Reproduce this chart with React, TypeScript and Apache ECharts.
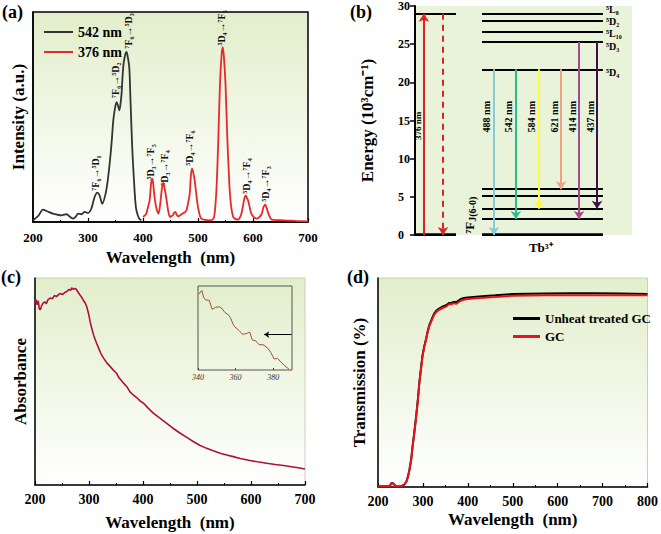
import React, { useEffect, useRef } from "react";
import * as echarts from "echarts";

const FONT = '"Liberation Serif", "Times New Roman", serif';

// ---------- (a) excitation / emission ----------
const excWl = [200, 210, 218, 228, 236, 244, 252, 261, 267, 273, 278, 282, 288, 294, 300, 306, 312, 317, 321, 326, 332, 336, 340, 343, 346, 349, 352, 355, 357, 359, 361, 363, 365, 368, 370, 372, 375, 377, 379, 381, 384, 386, 388, 393, 397];
const excInt = [0.8, 3, 5.9, 4.8, 4, 3.5, 3.2, 3.7, 2.5, 1.6, 2.6, 4, 3.7, 4.8, 4.3, 6.3, 11.9, 14, 12.7, 8.7, 13.5, 20, 29.4, 38, 48.4, 54, 57.1, 55, 53.2, 56, 61, 70, 76, 80, 81, 79, 73.8, 60, 45, 32, 18, 10, 5.6, 1.6, 0.8];
const emWl = [400, 403, 406, 409, 412, 415, 417, 419, 421, 424, 428, 430, 432, 435, 437, 440, 443, 446, 449, 452, 454, 457, 459, 461, 464, 468, 472, 476, 479, 482, 485, 487, 489, 491, 494, 497, 500, 503, 506, 513, 521, 528, 531, 534, 537, 540, 543, 545, 547, 550, 553, 557, 560, 564, 568, 573, 576, 579, 582, 585, 587, 589, 591, 594, 597, 602, 607, 612, 616, 619, 622, 625, 628, 631, 634, 645, 655, 670, 685, 700];
const emInt = [2.4, 3, 4, 7, 10.3, 19, 20.6, 17, 11.9, 7, 4, 6, 10.3, 17, 18.6, 15, 10.3, 5, 2.4, 2.8, 3.2, 4.5, 4.8, 3.6, 2.7, 3.3, 4, 4.6, 5.6, 9, 13.5, 22, 25.4, 24, 19.8, 13, 7.1, 3.5, 1.6, 1, 0.8, 1.6, 6, 18, 40, 65.9, 80, 83.3, 79, 65.9, 42, 18, 8, 2.4, 1.5, 1.1, 2, 4, 8, 11.9, 12.5, 11.5, 10.3, 7, 4, 2.2, 1.6, 2.4, 4, 7, 8.4, 6.5, 4, 2.2, 1.1, 0.9, 0.8, 0.6, 0.4, 0.3];
const aNotes = ["⁷F₆→⁵D₁", "⁷F₆→⁵D₂", "⁷F₆→⁵D₃", "⁵D₃→⁷F₅", "⁵D₃→⁷F₄", "⁵D₄→⁷F₆", "⁵D₄→⁷F₅", "⁵D₄→⁷F₄", "⁵D₄→⁷F₃"];
const aNoteWl = [314, 350, 373.5, 413, 438.5, 484.5, 542.5, 587.4, 622];
const aNoteVal = [23.3, 67.5, 91, 28.6, 25.7, 35.2, 92.4, 21.9, 18.1];

// ---------- (b) energy levels of Tb3+ (10^3 cm-1) ----------
const excitedLevel = 29.0;
const rightLevels = [29.0, 28.1, 26.6, 25.3, 21.7, 6.0, 5.15, 3.45, 2.1, 0];
const levelNames = ["⁵L₈", "⁵D₂", "⁵L₁₀", "⁵D₃", "⁵D₄"];
const levelNameE = [29.6, 28.0, 26.4, 24.7, 21.3];
const transLabels = ["488 nm", "542 nm", "584 nm", "621 nm", "414 nm", "437 nm"];
const transFrom = [21.7, 21.7, 21.7, 21.7, 25.3, 25.3];
const transTo = [0, 2.1, 3.45, 6.0, 2.1, 3.45];
const transColors = ["#86cbd6", "#2dbd8c", "#fbfb3a", "#eea27f", "#a24a8e", "#3e1046"];
// horizontal placement (layout, 0..100 across panel b)
const transX = [36.4, 46.5, 57.1, 67.3, 75.6, 83.9];

// ---------- (c) absorbance ----------
const absWl = [200, 202, 204, 206, 208, 210, 212, 215, 218, 221, 224, 228, 232, 236, 240, 243, 247, 251, 255, 259, 263, 266, 268, 271, 274, 276, 279, 283, 287, 290, 293, 296, 299, 302, 305, 309, 314, 318, 322, 327, 333, 339, 345, 351, 355, 360, 364, 370, 376, 382, 390, 395, 401, 410, 419, 430, 444, 456, 469, 481, 493, 505, 518, 530, 543, 555, 567, 580, 598, 612, 629, 645, 660, 675, 690, 700];
const absVal = [88, 89.5, 87, 89, 85, 84.7, 86.5, 87.9, 88.5, 87.6, 89.5, 90.3, 90, 91.5, 91, 91.9, 92.5, 92, 93, 93.5, 94.5, 94, 95.2, 94.5, 95, 94.7, 93.5, 91.9, 90.5, 89, 87.9, 86, 83, 79, 75.8, 72, 68.5, 66, 63.5, 61.3, 59, 57.3, 55.5, 54, 52, 50.5, 49.2, 47.5, 45, 43.5, 41.8, 40.5, 39.5, 37, 34.7, 32.5, 29.8, 27.3, 25, 23, 21, 19.2, 17.7, 16.5, 15.3, 14.5, 13.7, 12.8, 11.8, 11.2, 10.5, 9.9, 9.4, 8.8, 8.2, 7.7];
const insetWl = [340.5, 342, 343, 344, 346, 347.5, 349.3, 351.4, 352.8, 354.3, 356, 357.3, 359, 361.8, 363.6, 365.7, 367.5, 368.9, 370.7, 372.5, 374.6, 377, 378.8, 380.5, 382.3, 384.1, 386.8, 388.6];
const insetVal = [94.9, 99.6, 90.9, 87.7, 87, 75.9, 78.3, 79, 76.7, 71.9, 69.2, 65.2, 55.3, 49.4, 44.7, 45.5, 47.4, 37.5, 36.4, 31.6, 31.6, 27.7, 21.7, 13.8, 14.6, 9.9, 4, 0.8];

// ---------- (d) transmission ----------
const dWl = [200, 215, 226, 229, 232, 235, 239, 245, 252, 258, 263, 267, 270, 274, 277, 281, 285, 289, 292, 296, 299, 303, 307, 310, 314, 320, 325, 330, 336, 341, 347, 352, 358, 364, 369, 374, 380, 385, 391, 400, 425, 461, 498, 535, 572, 630, 682, 740, 800];
const gcT = [0.3, 0.3, 0.3, 1.6, 1.8, 1.4, 0.5, 0.5, 0.5, 1, 2.4, 5, 8, 13, 19.2, 26, 33.6, 42, 49.6, 57, 62.4, 67, 70.4, 73.5, 76.8, 80, 82.4, 83.8, 84.8, 85.3, 86, 86.3, 87.5, 87.5, 88, 87.6, 88.5, 89.2, 89.6, 89.9, 90.4, 90.9, 91.5, 91.6, 91.7, 91.8, 91.8, 91.8, 91.8];
const unheatT = [0.3, 0.3, 0.3, 1.7, 1.9, 1.5, 0.5, 0.5, 0.5, 1, 2.5, 5.2, 8.3, 13.4, 19.6, 26.5, 34, 42.4, 50, 57.4, 62.8, 67.4, 70.8, 74, 77.3, 80.5, 83, 84.4, 85.4, 86, 86.6, 87, 88, 88.2, 88.6, 88.4, 89.3, 90, 90.4, 90.7, 91.2, 91.7, 92.3, 92.5, 92.6, 92.7, 92.7, 92.6, 92.4];

const zip = (a: number[], b: number[]) => a.map((v, i) => [v, b[i]]);

const bg = () =>
  new echarts.graphic.LinearGradient(0, 0, 0, 1, [
    { offset: 0, color: "#e2eecb" },
    { offset: 1, color: "#ffffff" },
  ]);

const boldName = (size: number) => ({ fontFamily: FONT, fontWeight: "bold" as const, fontSize: size, color: "#000" });

const xAx = (gridIndex: number, min: number, max: number, gap: number, size: number, margin: number) => ({
  type: "value",
  gridIndex,
  min,
  max,
  interval: 100,
  axisLine: { show: true, onZero: false, lineStyle: { color: "#000", width: 1.5 } },
  axisTick: { show: true, inside: true, length: 4, lineStyle: { color: "#000", width: 1.2 } },
  minorTick: { show: true, splitNumber: 2, length: 2, lineStyle: { color: "#000" } },
  splitLine: { show: false },
  minorSplitLine: { show: false },
  axisLabel: { color: "#000", fontFamily: FONT, fontWeight: "bold", fontSize: size, margin },
  name: "Wavelength  (nm)",
  nameLocation: "middle",
  nameGap: gap,
  nameTextStyle: boldName(17),
});

const yAx = (gridIndex: number, name: string, gap: number) => ({
  type: "value",
  gridIndex,
  min: 0,
  max: 100,
  axisLine: { show: true, onZero: false, lineStyle: { color: "#000", width: 1.5 } },
  axisTick: { show: false },
  axisLabel: { show: false },
  splitLine: { show: false },
  name,
  nameLocation: "middle",
  nameGap: gap,
  nameTextStyle: boldName(17),
});

export default function App() {
  const ref = useRef<HTMLDivElement>(null);
  useEffect(() => {
    document.body.style.margin = "0";
    const chart = echarts.init(ref.current!, null, { renderer: "svg" });

    const levelLines: any[] = [
      { coords: [[0, excitedLevel], [18.9, excitedLevel]], lineStyle: { width: 2 } },
      { coords: [[0, 0], [18.9, 0]], lineStyle: { width: 3.5 } },
      ...rightLevels.map((e) => ({
        coords: [[30.9, e], [86.6, e]],
        lineStyle: { width: e === 0 ? 3.5 : 2 },
      })),
    ];
    const transArrows = transFrom.map((f, i) => ({
      coords: [[transX[i], f], [transX[i], transTo[i]]],
      lineStyle: { color: transColors[i], width: 2 },
    }));

    chart.setOption({
      animation: false,
      textStyle: { fontFamily: FONT },
      grid: [
        { left: 33, top: 12, width: 275, height: 210, show: true, borderColor: "#000", borderWidth: 1.5, backgroundColor: bg() },
        { left: 415, top: 6, width: 217, height: 229, show: true, borderWidth: 0, backgroundColor: "#e9f3da" },
        { left: 35, top: 278, width: 270, height: 207, show: true, borderColor: "#c8d0bc", borderWidth: 1, backgroundColor: bg() },
        { left: 198, top: 286, width: 94, height: 84, show: true, borderColor: "#555", borderWidth: 1, backgroundColor: "transparent" },
        { left: 378, top: 278, width: 272, height: 209, show: true, borderColor: "#c8d0bc", borderWidth: 1, backgroundColor: bg() },
      ],
      xAxis: [
        xAx(0, 200, 700, 27, 13, 9),
        { type: "value", gridIndex: 1, min: 0, max: 100, show: false },
        xAx(2, 200, 700, 29, 14, 7),
        {
          type: "value",
          gridIndex: 3,
          min: 340,
          max: 390,
          interval: 20,
          axisLine: { show: false },
          axisTick: { show: true, inside: true, length: 2, lineStyle: { color: "#444" } },
          splitLine: { show: false },
          axisLabel: { color: "#333", fontFamily: FONT, fontStyle: "italic", fontSize: 8, margin: 3, showMaxLabel: false },
        },
        { ...xAx(4, 200, 800, 24, 14, 7) },
      ],
      yAxis: [
        yAx(0, "Intensity (a.u.)", 6),
        {
          type: "value",
          gridIndex: 1,
          min: 0,
          max: 30,
          interval: 5,
          offset: 22,
          axisLine: { show: true, lineStyle: { color: "#000", width: 2 } },
          axisTick: { show: true, inside: false, length: 5, lineStyle: { color: "#000", width: 1.5 } },
          axisLabel: { inside: true, margin: 5, color: "#000", fontFamily: FONT, fontWeight: "bold", fontSize: 12 },
          splitLine: { show: false },
          name: "Energy (10³cm⁻¹)",
          nameLocation: "middle",
          nameGap: 17,
          nameTextStyle: boldName(17),
        },
        yAx(2, "Absorbance", 6),
        { type: "value", gridIndex: 3, min: 0, max: 105, show: false },
        yAx(4, "Transmission (%)", 10),
      ],
      legend: [
        {
          left: 39,
          top: 20,
          orient: "vertical",
          icon: "rect",
          itemWidth: 29,
          itemHeight: 2,
          itemGap: 6,
          data: ["542 nm", "376 nm"],
          textStyle: { fontFamily: FONT, fontWeight: "bold", fontSize: 14, color: "#000", lineHeight: 14 },
        },
        {
          left: 508,
          top: 307,
          orient: "vertical",
          icon: "rect",
          itemWidth: 27,
          itemHeight: 3,
          itemGap: 5,
          data: ["Unheat treated GC", "GC"],
          textStyle: { fontFamily: FONT, fontWeight: "bold", fontSize: 13, color: "#000", lineHeight: 12 },
        },
      ],
      series: [
        { name: "542 nm", type: "line", xAxisIndex: 0, yAxisIndex: 0, data: zip(excWl, excInt), symbol: "none", smooth: 0.3, lineStyle: { color: "#333", width: 1.8 }, itemStyle: { color: "#333" } },
        { name: "376 nm", type: "line", xAxisIndex: 0, yAxisIndex: 0, data: zip(emWl, emInt), symbol: "none", smooth: 0.3, lineStyle: { color: "#e8282a", width: 1.8 }, itemStyle: { color: "#e8282a" } },
        { type: "lines", coordinateSystem: "cartesian2d", xAxisIndex: 1, yAxisIndex: 1, data: levelLines, lineStyle: { color: "#000", width: 2, opacity: 1 }, symbol: "none", silent: true },
        { type: "lines", coordinateSystem: "cartesian2d", xAxisIndex: 1, yAxisIndex: 1, data: [{ coords: [[4.1, 0], [4.1, excitedLevel]] }], lineStyle: { color: "#e02020", width: 2, opacity: 1 }, symbol: ["none", "arrow"], symbolSize: 8, silent: true },
        { type: "lines", coordinateSystem: "cartesian2d", xAxisIndex: 1, yAxisIndex: 1, data: [{ coords: [[12.9, excitedLevel], [12.9, 0]] }], lineStyle: { color: "#e02020", width: 2, type: [6, 5], opacity: 1 }, symbol: ["none", "arrow"], symbolSize: 8, silent: true },
        { type: "lines", coordinateSystem: "cartesian2d", xAxisIndex: 1, yAxisIndex: 1, data: transArrows, lineStyle: { width: 2, opacity: 1 }, symbol: ["none", "arrow"], symbolSize: 8, silent: true },
        { type: "line", xAxisIndex: 2, yAxisIndex: 2, data: zip(absWl, absVal), symbol: "none", lineStyle: { color: "#b0103e", width: 1.6 } },
        { type: "line", xAxisIndex: 3, yAxisIndex: 3, data: zip(insetWl, insetVal), symbol: "none", lineStyle: { color: "#a0503a", width: 1 } },
        { type: "lines", coordinateSystem: "cartesian2d", xAxisIndex: 3, yAxisIndex: 3, data: [{ coords: [[389.8, 44.3], [375.2, 44.3]] }], lineStyle: { color: "#000", width: 1, opacity: 1 }, symbol: ["none", "arrow"], symbolSize: 5, silent: true },
        { name: "Unheat treated GC", type: "line", xAxisIndex: 4, yAxisIndex: 4, data: zip(dWl, unheatT), symbol: "none", lineStyle: { color: "#000", width: 2 }, itemStyle: { color: "#000" } },
        { name: "GC", type: "line", xAxisIndex: 4, yAxisIndex: 4, data: zip(dWl, gcT), symbol: "none", lineStyle: { color: "#e8141c", width: 2 }, itemStyle: { color: "#e8141c" } },
      ],
    });

    const P = (g: number, p: number[]) => chart.convertToPixel({ gridIndex: g } as any, p) as number[];
    const g: any[] = [];
    const panelLabel = (t: string, x: number, y: number) =>
      g.push({ type: "text", x, y, style: { text: t, font: `bold 18px ${FONT}`, fill: "#000" } });
    panelLabel("(a)", 2, 3);
    panelLabel("(b)", 350, 3);
    panelLabel("(c)", 1, 268);
    panelLabel("(d)", 347, 268);

    aNotes.forEach((t, i) => {
      const [x, y] = P(0, [aNoteWl[i], aNoteVal[i]]);
      g.push({ type: "text", x, y, rotation: Math.PI / 2, style: { text: t, font: `bold 10px ${FONT}`, fill: "#111", align: "center", verticalAlign: "middle" } });
    });

    levelNames.forEach((t, i) => {
      const [x, y] = P(1, [88, levelNameE[i]]);
      g.push({ type: "text", x, y, style: { text: t, font: `bold 10px ${FONT}`, fill: "#000", align: "left", verticalAlign: "middle" } });
    });
    transLabels.forEach((t, i) => {
      const [x0] = P(1, [transX[i], 0]);
      const [, y] = P(1, [0, 15.5]);
      g.push({ type: "text", x: x0 - 7, y, rotation: Math.PI / 2, style: { text: t, font: `bold 10px ${FONT}`, fill: "#000", align: "center", verticalAlign: "middle" } });
    });
    {
      const [ax] = P(1, [4.1, 0]);
      const [, y] = P(1, [0, 14.3]);
      g.push({ type: "text", x: ax - 6, y, rotation: Math.PI / 2, style: { text: "376 nm", font: `bold 9px ${FONT}`, fill: "#000", align: "center", verticalAlign: "middle" } });
      const [fx, fy] = P(1, [25.3, 2.6]);
      g.push({
        type: "text",
        x: fx,
        y: fy,
        rotation: Math.PI / 2,
        style: {
          text: "{a|⁷F}{s|J(6-0)}",
          align: "center",
          verticalAlign: "middle",
          rich: {
            a: { font: `bold 13px ${FONT}`, fill: "#000", lineHeight: 16 },
            s: { font: `bold 10px ${FONT}`, fill: "#000", lineHeight: 16, verticalAlign: "bottom", padding: [5, 0, 0, 0] },
          },
        },
      });
      const [tx] = P(1, [58, 0]);
      g.push({ type: "text", x: tx, y: 247, style: { text: "Tb³⁺", font: `bold 13px ${FONT}`, fill: "#000", align: "center", verticalAlign: "middle" } });
    }
    chart.setOption({ graphic: g });

    return () => chart.dispose();
  }, []);
  return <div ref={ref} style={{ width: 661, height: 534 }} />;
}
